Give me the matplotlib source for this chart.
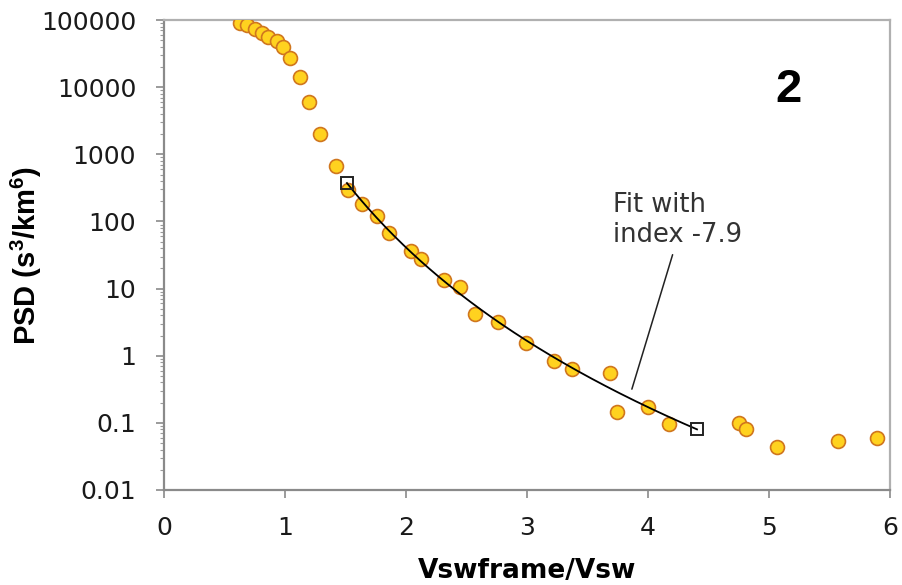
import numpy as np
import matplotlib
matplotlib.use("Agg")
import matplotlib.pyplot as plt
from matplotlib.ticker import LogLocator, NullFormatter

plt.rcParams["font.family"] = ["DejaVu Sans"]
plt.rcParams["mathtext.fontset"] = "custom"
plt.rcParams["mathtext.rm"] = "Liberation Sans:bold"
plt.rcParams["mathtext.bf"] = "Liberation Sans:bold"

# measured points (Vswframe/Vsw, PSD)
vx = [0.63, 0.69, 0.75, 0.81, 0.86, 0.93, 0.98, 1.04, 1.12, 1.20, 1.29,
      1.42, 1.52, 1.64, 1.76, 1.86, 2.04, 2.12, 2.31, 2.45, 2.57, 2.76,
      2.99, 3.22, 3.37, 3.69, 3.74, 4.00, 4.17, 4.75, 4.81, 5.07, 5.57, 5.89]
psd = [90000, 84000, 73000, 64000, 56000, 49000, 40000, 27000, 14000, 6000, 2000,
       670, 294, 182, 120, 67, 36, 27.5, 13.4, 10.5, 4.2, 3.2,
       1.55, 0.83, 0.63, 0.55, 0.145, 0.172, 0.096, 0.1, 0.081, 0.044, 0.054, 0.059]

# power-law fit, index -7.9, between the two square end markers
fit_index = -7.9
fit_x = [1.512, 4.405]
fit_y0 = 373

yticks = [0.01, 0.1, 1, 10, 100, 1000, 10000, 100000]
ylabels = ["0.01", "0.1", "1", "10", "100", "1000", "10000", "100000"]
xticks = [0, 1, 2, 3, 4, 5, 6]

fig = plt.figure(figsize=(9.02, 5.85), dpi=100)
ax = fig.add_axes([0.1818, 0.1624, 0.8049, 0.8034])

ax.scatter(vx, psd, s=100, facecolor="#FFD21F", edgecolor="#D0761E",
           linewidth=1.2, zorder=3)

xf = np.linspace(fit_x[0], fit_x[1], 200)
yf = fit_y0 * (xf / fit_x[0]) ** fit_index
ax.plot(xf, yf, color="black", lw=1.3, zorder=4)
ax.plot([xf[0], xf[-1]], [yf[0], yf[-1]], ls="none", marker="s", ms=9,
        mfc="none", mec="#222222", mew=1.4, zorder=5)

ax.set_yscale("log")
ax.set_xlim(0, 6)
ax.set_ylim(0.01, 100000)
ax.set_yticks(yticks, ylabels)
ax.yaxis.set_minor_locator(LogLocator(base=10, subs=np.arange(2, 10)))
ax.yaxis.set_minor_formatter(NullFormatter())
ax.set_xticks(xticks, [str(t) for t in xticks])

for side in ["left", "bottom"]:
    ax.spines[side].set_color("#8a8a8a")
    ax.spines[side].set_linewidth(1.6)
for side in ["top", "right"]:
    ax.spines[side].set_color("#b0b0b0")
    ax.spines[side].set_linewidth(1.6)

ax.tick_params(axis="both", which="major", direction="out", length=6,
               width=1.2, color="#8a8a8a", labelsize=18, labelcolor="#1a1a1a")
ax.tick_params(axis="y", which="major", pad=14)
ax.tick_params(axis="x", which="major", pad=13)
ax.tick_params(axis="y", which="minor", direction="out", length=3,
               width=0.8, color="#9a9a9a")

ax.set_xlabel("Vswframe/Vsw", fontsize=19, fontweight="bold", labelpad=13)
ax.set_ylabel("PSD (s$^3$/km$^6$)", fontsize=21, fontweight="bold",
              family="Liberation Sans", labelpad=-2)

ax.text(3.71, 270, "Fit with\nindex -7.9", fontsize=18.5, color="#333333",
        ha="left", va="top", linespacing=1.2)
ax.annotate("", xy=(3.86, 0.29), xytext=(4.21, 35),
            arrowprops=dict(arrowstyle="-", color="#222222", lw=1.1))

ax.text(5.16, 9000, "2", fontsize=34, fontweight="bold",
        family="Liberation Sans", ha="center", va="center")

fig.savefig("out.png", dpi=100)
